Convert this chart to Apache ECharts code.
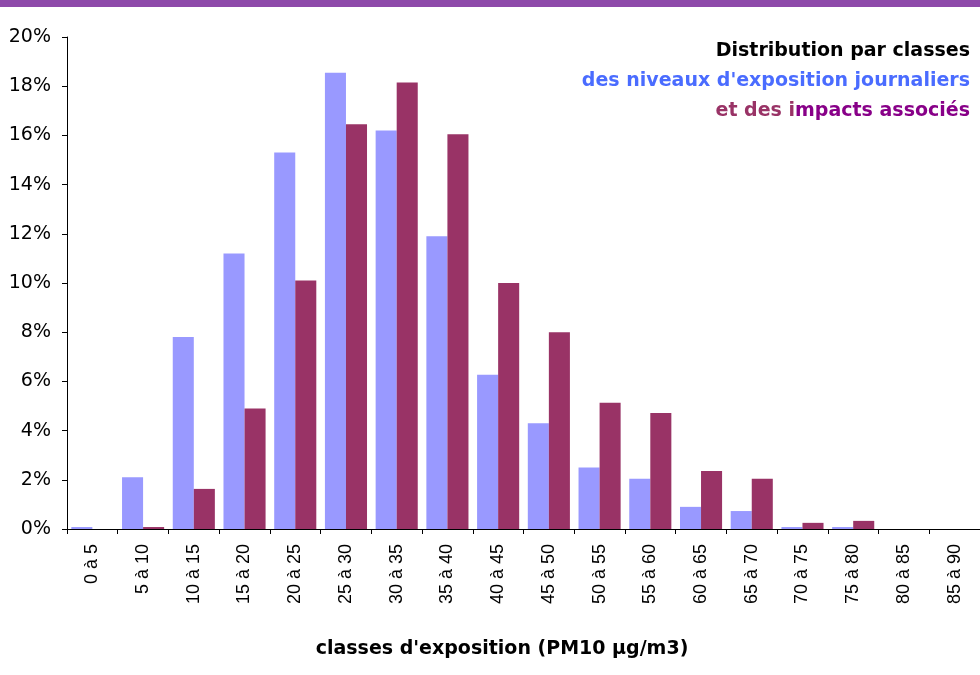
<!DOCTYPE html>
<html>
<head>
<meta charset="utf-8">
<title>Distribution par classes</title>
<script src="https://cdn.jsdelivr.net/npm/echarts@6/dist/echarts.min.js"></script>
<style>
  html, body { margin: 0; padding: 0; background: #fff; }
  #chart { width: 980px; height: 675px; }
</style>
</head>
<body>
<div id="chart"></div>
<script>
var classes = ['0 à 5','5 à 10','10 à 15','15 à 20','20 à 25','25 à 30','30 à 35','35 à 40','40 à 45',
  '45 à 50','50 à 55','55 à 60','60 à 65','65 à 70','70 à 75','75 à 80','80 à 85','85 à 90'];
// niveaux d'exposition journaliers (%)
var exposition = [0.08, 2.1, 7.8, 11.2, 15.3, 18.55, 16.2, 11.9, 6.27, 4.3, 2.5, 2.04, 0.9, 0.73, 0.08, 0.08, 0, 0];
// impacts associés (%)
var impacts = [0, 0.08, 1.63, 4.9, 10.1, 16.45, 18.15, 16.05, 10.0, 8.0, 5.13, 4.72, 2.36, 2.04, 0.25, 0.33, 0, 0];

var myChart = echarts.init(document.getElementById('chart'));
var font = 'Liberation Sans, Arial, sans-serif';
var wide = 'DejaVu Sans, Liberation Sans, sans-serif';

// petite fonction pour les lignes de texte alignées à droite
function rightText(y, text, fill, rich) {
  return {
    type: 'text',
    x: 970,
    y: y,
    style: {
      text: text,
      fill: fill,
      font: 'bold 19px ' + wide,
      textAlign: 'right',
      textVerticalAlign: 'middle',
      rich: rich
    }
  };
}

var option = {
  animation: false,
  textStyle: { fontFamily: font },
  graphic: [{
    type: 'rect',
    shape: { x: 0, y: 0, width: 980, height: 7 },
    style: { fill: '#8e4aaa' }
  },
    rightText(51, 'Distribution par classes', '#000'),
    rightText(81, 'des niveaux d\'exposition journaliers', '#4a6cff'),
    rightText(111, '{c|et des i}{d|mpacts associés}', '#993366', {
      c: { fontSize: 19, fontWeight: 'bold', fontFamily: wide, fill: '#993366' },
      d: { fontSize: 19, fontWeight: 'bold', fontFamily: wide, fill: '#880088' }
    }),
  {
    type: 'text',
    x: 502,
    y: 649,
    style: {
      text: 'classes d\'exposition (PM10 µg/m3)',
      fill: '#000',
      font: 'bold 19px ' + wide,
      textAlign: 'center',
      textVerticalAlign: 'middle'
    }
  }],
  grid: { left: 67, right: 0, top: 37, bottom: 146, containLabel: false },
  xAxis: {
    type: 'category',
    data: classes,
    axisLine: { lineStyle: { color: '#000', width: 1 } },
    axisTick: { show: true, length: 5, lineStyle: { color: '#000' } },
    axisLabel: { rotate: 90, fontSize: 18, color: '#000', margin: 15, interval: 0, fontFamily: font }
  },
  yAxis: {
    type: 'value',
    min: 0,
    max: 20,
    interval: 2,
    axisLine: { show: true, lineStyle: { color: '#000', width: 1 } },
    axisTick: { show: true, inside: false, length: 5, lineStyle: { color: '#000' } },
    axisLabel: { formatter: '{value}%', fontSize: 19, color: '#000', margin: 16, fontFamily: wide },
    splitLine: { show: false }
  },
  series: [{
    name: 'exposition',
    type: 'bar',
    data: exposition,
    barGap: '0%',
    barCategoryGap: '17%',
    itemStyle: { color: '#9999ff' }
  }, {
    name: 'impacts',
    type: 'bar',
    data: impacts,
    itemStyle: { color: '#993366' }
  }]
};
myChart.setOption(option);
</script>
</body>
</html>
